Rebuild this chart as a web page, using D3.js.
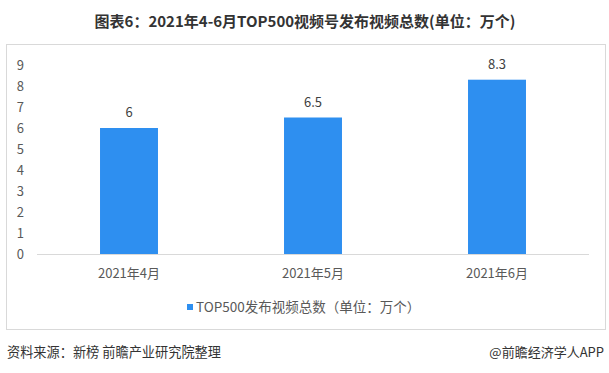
<!DOCTYPE html>
<html><head><meta charset="utf-8">
<script src="https://cdn.jsdelivr.net/npm/d3@7"></script>
<style>body{margin:0;background:#fff}svg{display:block}text{font-family:"Noto Sans CJK SC","Microsoft YaHei",sans-serif}</style>
</head><body>
<script>
const categories = ["2021年4月", "2021年5月", "2021年6月"];
const values = [6, 6.5, 8.3];
const yTicks = [0,1,2,3,4,5,6,7,8,9];
const seriesName = "TOP500发布视频总数（单位：万个）";
const title = "图表6：2021年4-6月TOP500视频号发布视频总数(单位：万个)";

const W = 609, H = 373;
const svg = d3.select("body").append("svg").attr("width", W).attr("height", H);

svg.append("text").attr("x", 305).attr("y", 27).attr("text-anchor", "middle")
  .attr("font-size", 15).attr("font-weight", "bold").attr("fill", "#333").text(title);

svg.append("rect").attr("x", 6.5).attr("y", 44.5).attr("width", 599).attr("height", 285)
  .attr("fill", "none").attr("stroke", "#d9d9d9");

const x = d3.scaleBand().domain(categories).range([37, 589]).paddingInner(0.685).paddingOuter(0.3425);
const y = d3.scaleLinear().domain([0, 9]).range([254, 65]);

svg.append("line").attr("x1", 37).attr("x2", 589).attr("y1", 254.5).attr("y2", 254.5).attr("stroke", "#d9d9d9");

svg.append("g").selectAll("text").data(yTicks).join("text")
  .attr("x", 24).attr("y", d => y(d)).attr("dy", "0.35em").attr("text-anchor", "end")
  .attr("font-size", 13).attr("fill", "#595959").text(d => d);

svg.append("g").selectAll("rect").data(values).join("rect")
  .attr("x", (d, i) => x(categories[i])).attr("width", x.bandwidth())
  .attr("y", d => y(d)).attr("height", d => y(0) - y(d)).attr("fill", "#2E8FF0");

svg.append("g").selectAll("text").data(values).join("text")
  .attr("x", (d, i) => x(categories[i]) + x.bandwidth() / 2).attr("y", d => y(d) - 11)
  .attr("text-anchor", "middle").attr("font-size", 13).attr("fill", "#404040").text(d => d);

svg.append("g").selectAll("text").data(categories).join("text")
  .attr("x", d => x(d) + x.bandwidth() / 2).attr("y", 273).attr("dy", "0.35em")
  .attr("text-anchor", "middle").attr("font-size", 13).attr("fill", "#595959").text(d => d);

svg.append("rect").attr("x", 187).attr("y", 304).attr("width", 6).attr("height", 6).attr("fill", "#2E8FF0");
svg.append("text").attr("x", 196).attr("y", 307).attr("dy", "0.35em").attr("font-size", 13.5)
  .attr("fill", "#595959").text(seriesName);

svg.append("text").attr("x", 7).attr("y", 357).attr("font-size", 13.2).attr("fill", "#333").text("资料来源：新榜 前瞻产业研究院整理");
svg.append("text").attr("x", 604).attr("y", 357).attr("text-anchor", "end").attr("font-size", 13).attr("fill", "#333").text("@前瞻经济学人APP");
</script>
</body></html>
